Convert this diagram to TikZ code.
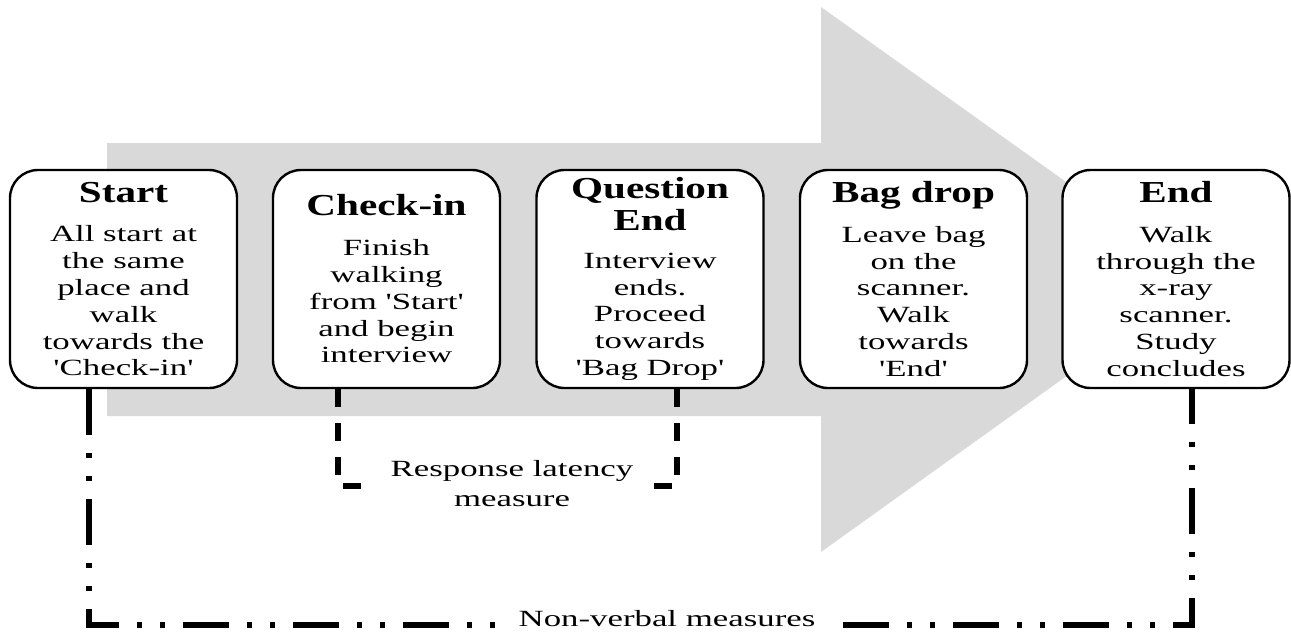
\documentclass[tikz,border=0pt]{standalone}
\usepackage{fontspec}
\setmainfont{Liberation Serif}
\newfontfamily\bodyfont{Liberation Serif}[FakeStretch=1.5]
\newfontfamily\titlefont{Liberation Serif}[FakeStretch=1.35]
\usetikzlibrary{shapes}
\definecolor{arrowgray}{RGB}{217,217,217}
\newcommand{\stagetitle}[1]{{\titlefont\bfseries\fontsize{30.5}{32}\selectfont #1}}
\tikzstyle{stage}=[draw, rounded corners=28pt, line width=2.4pt, fill=white, minimum width=227pt, minimum height=218pt, align=center, inner sep=0pt, font=\bodyfont\fontsize{23.2}{26.8}\selectfont]
\tikzstyle{latency}=[draw=black, line width=5.5pt, dash pattern=on 18pt off 16pt]
\tikzstyle{nonverbal}=[draw=black, line width=5.5pt, dash pattern=on 46pt off 18pt on 5pt off 18pt on 5pt off 18pt]
\tikzstyle{measure}=[align=center, font=\bodyfont\fontsize{23.2}{30}\selectfont, inner xsep=14pt, inner ysep=2pt]

\begin{document}
\begin{tikzpicture}[x=1pt, y=-1pt]
            \useasboundingbox (0,0) rectangle (1291,633);
            \fill[arrowgray] (107,143) -- (821,143) -- (821,7) -- (1202,279) -- (821,552) -- (821,416) -- (107,416) -- cycle;

            \coordinate (rl1) at (365,486);
            \coordinate (rl2) at (652,486);
            \coordinate (nv) at (650,625);

            \begin{scope}[every node/.style={stage}]
                \node (1) at (123.5,279) {\stagetitle{Start}\\[13pt]All start at\\the same\\place and\\walk\\towards the\\'Check-in'};
                \node (2) at (386.5,279) {\stagetitle{Check-in}\\[13pt]Finish\\walking\\from 'Start'\\and begin\\interview};
                \node (3) at (650,279) {\stagetitle{Question}\\[5pt]\stagetitle{End}\\[11pt]Interview\\ends.\\Proceed\\towards\\'Bag Drop'};
                \node (4) at (913.5,279) {\stagetitle{Bag drop}\\[13pt]Leave bag\\on the\\scanner.\\Walk\\towards\\'End'};
                \node (5) at (1176,279) {\stagetitle{End}\\[13pt]Walk\\through the\\x-ray\\scanner.\\Study\\concludes};
            \end{scope}

            \begin{scope}[every path/.style={latency}]
                \path ([xshift=-48.5pt]2.south) |- (rl1);
                \path ([xshift=27pt]3.south) |- (rl2);
            \end{scope}

            \begin{scope}[every path/.style={nonverbal}]
                \path ([xshift=-34.5pt]1.south) |- (nv) -| ([xshift=16pt]5.south);
            \end{scope}

            \node[measure] (rl) at (512,484) {Response latency\\measure};
            \node[measure, fill=white] (nvl) at (667,619) {Non-verbal measures};
        \end{tikzpicture}
\end{document}
